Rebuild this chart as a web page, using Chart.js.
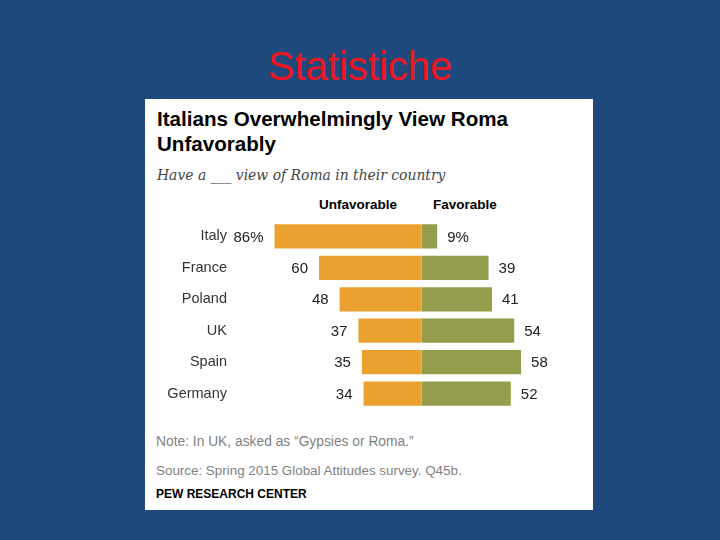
<!DOCTYPE html>
<html><head><meta charset="utf-8">
<script src="https://cdn.jsdelivr.net/npm/chart.js@4/dist/chart.umd.min.js"></script>
<style>
html,body{margin:0;padding:0;}
body{width:720px;height:540px;background:#1F497D;position:relative;overflow:hidden;font-family:"Liberation Sans",Arial,sans-serif;}
#slideTitle{position:absolute;left:0;width:720px;top:46px;text-align:center;color:#EE1620;font-size:40px;line-height:40px;}
#panel{position:absolute;left:145px;top:99px;width:448px;height:411px;background:#fff;}
.t{position:absolute;white-space:nowrap;}
#title{left:12px;top:6.5px;font-weight:bold;font-size:20.6px;line-height:25px;color:#000;}
#sub{left:12px;top:67px;font-family:"DejaVu Serif",serif;font-style:italic;font-size:13.9px;line-height:18px;color:#444;}
#hU{right:196px;top:98px;font-weight:bold;font-size:13.5px;line-height:16px;color:#000;}
#hF{left:288px;top:98px;font-weight:bold;font-size:13.5px;line-height:16px;color:#000;}
#note{left:11px;top:335px;font-size:13.8px;line-height:16px;color:#7f7f7f;}
#src{left:11px;top:364px;font-size:13.4px;line-height:16px;color:#7f7f7f;}
#pew{left:11px;top:387px;font-weight:bold;font-size:12px;line-height:16px;color:#000;}
#wrap{position:absolute;left:0;top:110px;width:448px;height:212px;}
</style>
</head><body>
<div id="slideTitle">Statistiche</div>
<div id="panel">
  <div class="t" id="title">Italians Overwhelmingly View Roma<br>Unfavorably</div>
  <div class="t" id="sub">Have a ___ view of Roma in their country</div>
  <div class="t" id="hU">Unfavorable</div>
  <div class="t" id="hF">Favorable</div>
  <div id="wrap"><canvas id="c" width="448" height="212"></canvas></div>
  <div class="t" id="note">Note: In UK, asked as “Gypsies or Roma.”</div>
  <div class="t" id="src">Source: Spring 2015 Global Attitudes survey. Q45b.</div>
  <div class="t" id="pew">PEW RESEARCH CENTER</div>
</div>
<script>
const countries = ["Italy", "France", "Poland", "UK", "Spain", "Germany"];
const unfavorable = [86, 60, 48, 37, 35, 34];
const favorable = [9, 39, 41, 54, 58, 52];

const valueLabels = {
  id: 'valueLabels',
  afterDatasetsDraw(chart) {
    const ctx = chart.ctx;
    ctx.save();
    ctx.font = '15px "Liberation Sans", Arial, sans-serif';
    ctx.fillStyle = '#222';
    ctx.textBaseline = 'middle';
    chart.data.datasets.forEach((ds, di) => {
      const meta = chart.getDatasetMeta(di);
      meta.data.forEach((bar, i) => {
        const v = di === 0 ? unfavorable[i] : favorable[i];
        const txt = v + (i === 0 ? '%' : '');
        if (di === 0) { ctx.textAlign = 'right'; ctx.fillText(txt, bar.x - 11, bar.y + 1); }
        else { ctx.textAlign = 'left'; ctx.fillText(txt, bar.x + 10, bar.y + 1); }
      });
    });
    ctx.restore();
  }
};

new Chart(document.getElementById('c'), {
  type: 'bar',
  data: {
    labels: countries,
    datasets: [
      { label: 'Unfavorable', data: unfavorable.map(v => -v), backgroundColor: '#EAA12F', stack: 's', borderWidth: 0 },
      { label: 'Favorable', data: favorable, backgroundColor: '#949D4B', stack: 's', borderWidth: 0 }
    ]
  },
  options: {
    indexAxis: 'y',
    responsive: false,
    animation: false,
    events: [],
    barPercentage: 0.77,
    categoryPercentage: 1,
    layout: { padding: { top: 5.7, bottom: 4.7, left: 0, right: 0 } },
    plugins: { legend: { display: false }, tooltip: { enabled: false }, title: { display: false } },
    scales: {
      x: { stacked: true, display: false, min: -112, max: 100 },
      y: {
        stacked: true,
        grid: { display: false, drawTicks: false },
        border: { display: false },
        ticks: { padding: 3, color: '#333', font: { family: '"Liberation Sans", Arial, sans-serif', size: 14.5 } },
        afterFit(scale) { scale.width = 85; }
      }
    }
  },
  plugins: [valueLabels]
});
</script>
</body></html>
